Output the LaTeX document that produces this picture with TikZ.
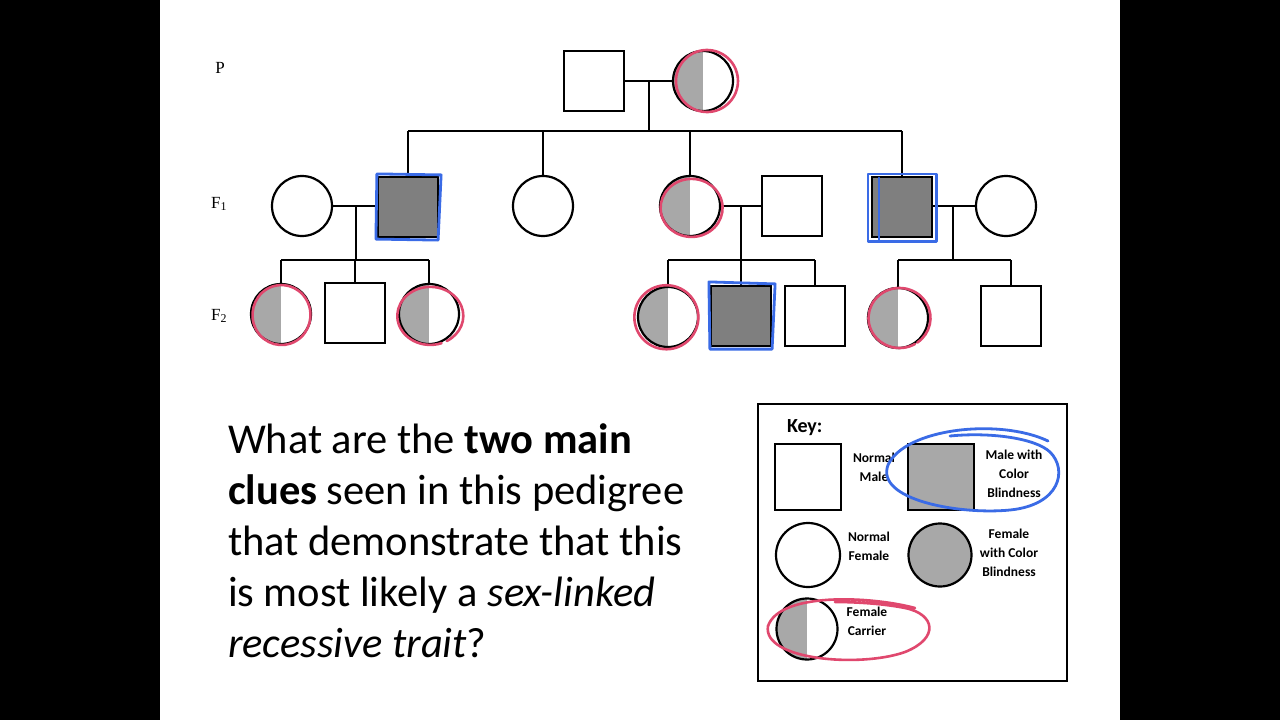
\documentclass[tikz,border=0pt]{standalone}
\usepackage{fontspec}
\setmainfont{Carlito}
\newfontfamily\seriffont{Liberation Serif}
\usetikzlibrary{calc}
\definecolor{dkgray}{HTML}{7F7F7F}
\definecolor{ltgray}{HTML}{A8A8A8}
\definecolor{redink}{HTML}{E0486E}
\definecolor{blueink}{HTML}{3A6BE6}
\begin{document}
\begin{tikzpicture}[x=1pt,y=-1pt,line width=2pt,
  male/.style={draw=black,rectangle,minimum size=60pt,inner sep=0pt,line width=2.2pt},
  female/.style={draw=black,circle,minimum size=60pt,inner sep=0pt,line width=2.2pt},
  affected/.style={fill=dkgray},
  carrier/.style={path picture={\fill[ltgray] (path picture bounding box.south west) rectangle (path picture bounding box.north);}},
  redmark/.style={draw=redink,line width=2.6pt,line cap=round},
  bluemark/.style={draw=blueink,line width=2.8pt,line join=round,line cap=round},
  genlbl/.style={font=\seriffont\fontsize{17}{17}\selectfont,anchor=base},
  keytxt/.style={font=\fontsize{13.5}{19}\selectfont\bfseries,align=center,inner sep=0pt},
  qline/.style={anchor=base west,inner sep=0pt,font=\fontsize{42.5}{51}\selectfont}
]
\useasboundingbox (0,0) rectangle (1280,720);
\fill[black] (0,0) rectangle (1280,720);
\fill[white] (160,0) rectangle (1120,720);

% generation labels
\node[genlbl] (lp) at (220,73) {P};
\node[genlbl] (lf1) at (219,208) {F\textsubscript{1}};
\node[genlbl] (lf2) at (219,320) {F\textsubscript{2}};

% P generation
\node[male] (pm) at (594,81) {};
\node[female,carrier] (pf) at (703,81) {};
\draw (pm.east) -- (pf.west);
\coordinate (pmid) at ($(pm.east)!0.5!(pf.west)$);
\coordinate (psib) at (pmid |- 0,131);
\draw (pmid) -- (psib);

% F1
\node[female] (f1w1) at (302,206) {};
\node[male,affected] (f1m1) at (408,207) {};
\node[female] (f1f2) at (543,206) {};
\node[female,carrier] (f1c) at (690,206) {};
\node[male] (f1h) at (792,206) {};
\node[male,affected] (f1m2) at (902,207) {};
\node[female] (f1w2) at (1006,206) {};

\draw (f1m1.north |- psib) -- (f1m2.north |- psib);
\foreach \n in {f1m1,f1f2,f1c,f1m2} \draw (\n.north |- psib) -- (\n.north);

% marriages
\draw (f1w1.east) -- (f1w1.east -| f1m1.west);
\draw (f1c.east) -- (f1c.east -| f1h.west);
\draw (f1m2.east |- f1w2.west) -- (f1w2.west);

\coordinate (s1) at (356,260);
\coordinate (s2) at (741,260);
\coordinate (s3) at (953,260);
\draw (s1 |- f1w1.east) -- (s1);
\draw (s2 |- f1c.east) -- (s2);
\draw (s3 |- f1w2.west) -- (s3);

% F2
\node[female,carrier] (f2a) at (281,314) {};
\node[male] (f2b) at (355,313) {};
\node[female,carrier] (f2c) at (429,314) {};
\node[female,carrier] (f2d) at (668,317) {};
\node[male,affected] (f2e) at (741,316) {};
\node[male] (f2f) at (815,316) {};
\node[female,carrier] (f2g) at (898,318) {};
\node[male] (f2h) at (1011,316) {};

\draw (f2a.north |- s1) -- (f2c.north |- s1);
\foreach \n in {f2a,f2b,f2c} \draw (\n.north |- s1) -- (\n.north);
\draw (f2d.north |- s2) -- (f2f.north |- s2);
\foreach \n in {f2d,f2e,f2f} \draw (\n.north |- s2) -- (\n.north);
\draw (f2g.north |- s3) -- (f2h.north |- s3);
\foreach \n in {f2g,f2h} \draw (\n.north |- s3) -- (\n.north);

% red hand-drawn circles on carriers
\draw[redmark] ($(pf)+(4,0)$) ++(60:31) arc[start angle=60,end angle=425,x radius=31,y radius=31];
\draw[redmark] ($(f1c)+(2,1)$) ++(65:30) arc[start angle=65,end angle=425,x radius=31,y radius=29];
\draw[redmark] ($(f2a)+(0,1)$) ++(60:30) arc[start angle=60,end angle=420,x radius=29,y radius=30];
\draw[redmark] ($(f2c)+(2,0)$) ++(70:31) arc[start angle=70,end angle=420,x radius=33,y radius=29];
\draw[redmark] ($(f2d)+(-1,1)$) ++(50:31) arc[start angle=50,end angle=410,x radius=32,y radius=32];
\draw[redmark] ($(f2g)+(2,0)$) ++(60:30) arc[start angle=60,end angle=415,x radius=31,y radius=30];

% blue hand-drawn squares on affected males
\draw[bluemark] ($(f1m1.south west)+(-1,1)$) -- ($(f1m1.north west)+(0,-2)$) -- ($(f1m1.north east)+(2,-1)$) -- ($(f1m1.south east)+(-1,2)$) -- cycle;
\draw[bluemark] ($(f1m2.south west)+(-3,3)$) -- ($(f1m2.north west)+(-3,-2)$) -- ($(f1m2.north east)+(3,-2)$) -- ($(f1m2.south east)+(3,3)$) -- cycle;
\draw[bluemark] ($(f1m2.north west)+(8,2)$) -- ($(f1m2.south west)+(8,2)$);
\draw[bluemark] ($(f2e.south west)+(0,2)$) -- ($(f2e.north west)+(-1,-3)$) -- ($(f2e.north east)+(3,-1)$) -- ($(f2e.south east)+(0,2)$) -- cycle;

% question
\node[qline] (q1) at (227,453) {What are the \textbf{two main}};
\node[qline] (q2) at (227,504) {\textbf{clues} seen in this pedigree};
\node[qline] (q3) at (227,555) {that demonstrate that this};
\node[qline] (q4) at (227,606) {is most likely a \textit{sex-linked}};
\node[qline] (q5) at (227,657) {\textit{recessive trait}?};

% key
\node[draw=black,line width=2pt,minimum width=309pt,minimum height=277pt,inner sep=0pt] (key) at (912,542) {};
\node[font=\fontsize{20}{20}\selectfont\bfseries,anchor=base west,inner sep=0pt] (keyt) at (786,432) {Key:};
\node[male,minimum size=66pt] (k1) at (808,477) {};
\node[keytxt] (k1t) at (874,467) {Normal\\Male};
\node[male,minimum size=66pt,fill=ltgray] (k2) at (941,477) {};
\node[keytxt] (k2t) at (1014,474) {Male with\\Color\\Blindness};
\node[female,minimum size=64pt] (k3) at (808,555) {};
\node[keytxt] (k3t) at (869,546) {Normal\\Female};
\node[female,minimum size=63pt,fill=ltgray] (k4) at (940,555) {};
\node[keytxt] (k4t) at (1009,553) {Female\\with Color\\Blindness};
\node[female,carrier,minimum size=61pt] (k5) at (807,629) {};
\node[keytxt] (k5t) at (867,621) {Female\\Carrier};

\draw[bluemark] (1048,441) .. controls (1000,418) and (905,428) .. (888,465) .. controls (875,500) and (960,515) .. (1010,510) .. controls (1060,505) and (1068,470) .. (1050,452) .. controls (1035,438) and (990,432) .. (950,436);
\draw[redmark] (915,608) .. controls (870,596) and (780,592) .. (768,626) .. controls (762,660) and (860,668) .. (905,652) .. controls (940,638) and (935,614) .. (905,608) .. controls (880,603) and (850,602) .. (835,602);
\end{tikzpicture}
\end{document}
